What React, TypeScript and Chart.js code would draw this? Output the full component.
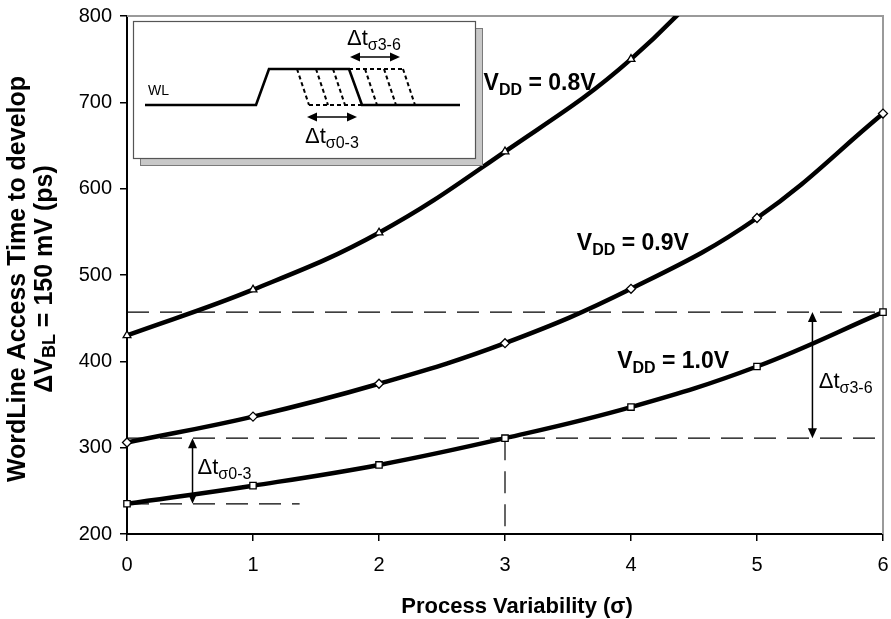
import React, { useEffect, useRef } from 'react';
import { Chart, registerables } from 'chart.js';

Chart.register(...registerables);

// ---------- data ----------
const SIGMA = [0, 1, 2, 3, 4, 5, 6];
const VDD_08 = [430, 483, 549, 643, 750, 900];
const VDD_09 = [306, 336, 374, 421, 484, 566, 687];
const VDD_10 = [235, 256, 280, 311, 347, 394, 457];
const X_TICKS = [0, 1, 2, 3, 4, 5, 6];
const Y_MIN = 200;
const Y_MAX = 800;
const Y_STEP = 100;
const CURVE_NAMES = ['0.8V', '0.9V', '1.0V'];
// reference levels of the VDD = 1.0V curve at 0, 3 and 6 sigma
const LEVEL_0 = 235;
const LEVEL_3 = 311;
const LEVEL_6 = 457;

const FONT = "Arial, 'Liberation Sans', Helvetica, sans-serif";

type Part = { t: string; size: number; bold?: boolean; dy?: number };
const fontOf = (p: Part) => `${p.bold ? 'bold ' : ''}${p.size}px ${FONT}`;
function measureParts(ctx: CanvasRenderingContext2D, parts: Part[]) {
  let w = 0;
  for (const p of parts) {
    ctx.font = fontOf(p);
    w += ctx.measureText(p.t).width;
  }
  return w;
}
function drawParts(ctx: CanvasRenderingContext2D, parts: Part[], x: number, y: number) {
  let cx = x;
  for (const p of parts) {
    ctx.font = fontOf(p);
    ctx.fillText(p.t, cx, y + (p.dy || 0));
    cx += ctx.measureText(p.t).width;
  }
}
function arrowHead(ctx: CanvasRenderingContext2D, x: number, y: number, ang: number, len: number, half: number) {
  ctx.beginPath();
  ctx.moveTo(x, y);
  ctx.lineTo(x - len * Math.cos(ang) + half * Math.sin(ang), y - len * Math.sin(ang) - half * Math.cos(ang));
  ctx.lineTo(x - len * Math.cos(ang) - half * Math.sin(ang), y - len * Math.sin(ang) + half * Math.cos(ang));
  ctx.closePath();
  ctx.fill();
}
function doubleArrow(ctx: CanvasRenderingContext2D, x1: number, y1: number, x2: number, y2: number, len = 10, half = 4.5) {
  const ang = Math.atan2(y2 - y1, x2 - x1);
  ctx.save();
  ctx.setLineDash([]);
  ctx.lineWidth = 1.5;
  ctx.strokeStyle = '#000';
  ctx.fillStyle = '#000';
  ctx.beginPath();
  ctx.moveTo(x1 + len * 0.6 * Math.cos(ang), y1 + len * 0.6 * Math.sin(ang));
  ctx.lineTo(x2 - len * 0.6 * Math.cos(ang), y2 - len * 0.6 * Math.sin(ang));
  ctx.stroke();
  arrowHead(ctx, x2, y2, ang, len, half);
  arrowHead(ctx, x1, y1, ang + Math.PI, len, half);
  ctx.restore();
}
const deltaLabel = (sub: string): Part[] => [
  { t: '\u0394t', size: 22 },
  { t: '\u03c3' + sub, size: 16, dy: 5 },
];

const annotationPlugin = {
  id: 'annotations',
  beforeDatasetsDraw(chart: any) {
    const { ctx, chartArea: a, scales } = chart;
    const xs = scales.x;
    const ys = scales.y;
    ctx.save();
    // grey frame top & right
    ctx.strokeStyle = '#9a9a9a';
    ctx.lineWidth = 2;
    ctx.beginPath();
    ctx.moveTo(a.left, a.top);
    ctx.lineTo(a.right, a.top);
    ctx.lineTo(a.right, a.bottom);
    ctx.stroke();
    // dashed reference lines
    ctx.strokeStyle = '#000';
    ctx.lineWidth = 1.2;
    ctx.setLineDash([22, 11]);
    const hline = (v: number, s0: number, s1: number) => {
      ctx.beginPath();
      ctx.moveTo(xs.getPixelForValue(s0), ys.getPixelForValue(v));
      ctx.lineTo(xs.getPixelForValue(s1), ys.getPixelForValue(v));
      ctx.stroke();
    };
    hline(LEVEL_6, 0, 6);
    hline(LEVEL_3, 0, 6);
    hline(LEVEL_0, 0, 1.37);
    ctx.beginPath();
    ctx.moveTo(xs.getPixelForValue(3), ys.getPixelForValue(LEVEL_3));
    ctx.lineTo(xs.getPixelForValue(3), ys.getPixelForValue(Y_MIN));
    ctx.stroke();
    ctx.restore();
  },
  afterDatasetsDraw(chart: any) {
    const { ctx, chartArea: a, scales } = chart;
    const xs = scales.x;
    const ys = scales.y;
    ctx.save();
    ctx.fillStyle = '#000';
    ctx.textBaseline = 'alphabetic';
    ctx.textAlign = 'left';

    // arrows on the main plot
    const ax1 = xs.getPixelForValue(0.52);
    doubleArrow(ctx, ax1, ys.getPixelForValue(LEVEL_3), ax1, ys.getPixelForValue(LEVEL_0));
    const ax2 = xs.getPixelForValue(5.44);
    doubleArrow(ctx, ax2, ys.getPixelForValue(LEVEL_6), ax2, ys.getPixelForValue(LEVEL_3));
    drawParts(ctx, deltaLabel('0-3'), xs.getPixelForValue(0.56), ys.getPixelForValue(270));
    drawParts(ctx, deltaLabel('3-6'), xs.getPixelForValue(5.49), ys.getPixelForValue(369));

    // curve labels
    const labelPos = [
      { x: 2.83, y: 714 },
      { x: 3.57, y: 529 },
      { x: 3.89, y: 392 },
    ];
    CURVE_NAMES.forEach((n, i) => {
      drawParts(
        ctx,
        [
          { t: 'V', size: 23, bold: true },
          { t: 'DD', size: 16, bold: true, dy: 5 },
          { t: ' = ' + n, size: 23, bold: true },
        ],
        xs.getPixelForValue(labelPos[i].x),
        ys.getPixelForValue(labelPos[i].y)
      );
    });

    // inset
    const bx = a.left + 6;
    const by = a.top + 5;
    const bw = 342;
    const bh = 137;
    ctx.fillStyle = '#c8c8c8';
    ctx.fillRect(bx + 7, by + 7, bw, bh);
    ctx.strokeStyle = '#7a7a7a';
    ctx.lineWidth = 1;
    ctx.strokeRect(bx + 7.5, by + 7.5, bw, bh);
    ctx.fillStyle = '#fff';
    ctx.fillRect(bx, by, bw, bh);
    ctx.strokeStyle = '#555';
    ctx.lineWidth = 1.2;
    ctx.strokeRect(bx + 0.5, by + 0.5, bw, bh);

    const P = (x: number, y: number): [number, number] => [bx + x, by + y];
    const poly = (pts: [number, number][]) => {
      ctx.beginPath();
      pts.forEach((p, i) => {
        const [x, y] = P(p[0], p[1]);
        if (i === 0) ctx.moveTo(x, y);
        else ctx.lineTo(x, y);
      });
      ctx.stroke();
    };
    ctx.strokeStyle = '#000';
    ctx.lineJoin = 'miter';
    // dashed alternative edges
    ctx.lineWidth = 2;
    ctx.setLineDash([4, 3]);
    [164, 183, 200].forEach((t) => poly([[t, 48], [t + 12, 84]]));
    poly([[176, 84], [229, 84]]);
    poly([[216, 48], [270, 48]]);
    [232, 251, 270].forEach((t) => poly([[t, 48], [t + 12, 84]]));
    // solid WL
    ctx.setLineDash([]);
    ctx.lineWidth = 2.6;
    poly([[12, 84], [123, 84], [136, 48], [216, 48], [229, 84], [327, 84]]);
    ctx.fillStyle = '#000';
    ctx.font = `14px ${FONT}`;
    ctx.fillText('WL', bx + 15, by + 74);
    const [u1x, u1y] = P(217, 36);
    const [u2x] = P(267, 36);
    doubleArrow(ctx, u1x, u1y, u2x, u1y, 10, 4.5);
    const [l1x, l1y] = P(174, 96);
    const [l2x] = P(224, 96);
    doubleArrow(ctx, l1x, l1y, l2x, l1y, 10, 4.5);
    ctx.fillStyle = '#000';
    drawParts(ctx, deltaLabel('3-6'), bx + 214, by + 24);
    drawParts(ctx, deltaLabel('0-3'), bx + 172, by + 122);

    // axis titles
    const xt = 'Process Variability (\u03c3)';
    ctx.font = `bold 22px ${FONT}`;
    ctx.textAlign = 'center';
    ctx.fillText(xt, (a.left + a.right) / 2 + 12, 613);
    ctx.textAlign = 'left';

    const cy = (a.top + a.bottom) / 2 + 4;
    const line1: Part[] = [{ t: 'WordLine Access Time to develop', size: 25, bold: true }];
    const line2: Part[] = [
      { t: '\u0394V', size: 25, bold: true },
      { t: 'BL', size: 18, bold: true, dy: 5 },
      { t: ' = 150 mV (ps)', size: 25, bold: true },
    ];
    const drawRot = (parts: Part[], cx: number) => {
      const w = measureParts(ctx, parts);
      ctx.save();
      ctx.translate(cx, cy);
      ctx.rotate(-Math.PI / 2);
      ctx.textBaseline = 'middle';
      drawParts(ctx, parts, -w / 2, 0);
      ctx.restore();
    };
    drawRot(line1, 18);
    drawRot(line2, 45);
    ctx.restore();
  },
};

export default function App() {
  const ref = useRef<HTMLCanvasElement | null>(null);
  useEffect(() => {
    if (!ref.current) return;
    const common = {
      borderColor: '#000',
      borderWidth: 4.5,
      tension: 0.4,
      capBezierPoints: false,
      pointRadius: 4.5,
      pointBorderWidth: 1.3,
      pointBackgroundColor: '#fff',
      pointBorderColor: '#000',
      clip: { left: 12, right: 12, top: 0, bottom: 12 },
    };
    const toPts = (vals: number[]) => vals.map((v, i) => ({ x: SIGMA[i], y: v }));
    const tickFont = { family: FONT, size: 20 };
    const chart = new Chart(ref.current, {
      type: 'line',
      data: {
        datasets: [
          { label: 'VDD = ' + CURVE_NAMES[0], data: toPts(VDD_08), pointStyle: 'triangle', ...common },
          { label: 'VDD = ' + CURVE_NAMES[1], data: toPts(VDD_09), pointStyle: 'rectRot', ...common },
          { label: 'VDD = ' + CURVE_NAMES[2], data: toPts(VDD_10), pointStyle: 'rect', ...common },
        ] as any,
      },
      options: {
        animation: false,
        responsive: false,
        devicePixelRatio: 1,
        layout: { padding: { top: 16, right: 8, left: 0, bottom: 0 } },
        plugins: { legend: { display: false }, tooltip: { enabled: false } },
        scales: {
          x: {
            type: 'linear',
            min: 0,
            max: 6,
            afterFit: (s: any) => {
              s.height = 85;
              s.paddingLeft = 0;
              s.paddingRight = 0;
            },
            afterBuildTicks: (s: any) => {
              s.ticks = X_TICKS.map((v) => ({ value: v }));
            },
            ticks: { font: tickFont, color: '#000', padding: 12, maxRotation: 0, autoSkip: false },
            grid: { drawOnChartArea: false, drawTicks: true, tickLength: 7, color: '#000', lineWidth: 1.5 },
            border: { color: '#000', width: 2 },
          },
          y: {
            type: 'linear',
            min: Y_MIN,
            max: Y_MAX,
            afterFit: (s: any) => {
              s.width = 127;
              s.paddingTop = 0;
              s.paddingBottom = 0;
            },
            ticks: { stepSize: Y_STEP, font: tickFont, color: '#000', padding: 8 },
            grid: { drawOnChartArea: false, drawTicks: true, tickLength: 7, color: '#000', lineWidth: 1.5 },
            border: { color: '#000', width: 2 },
          },
        },
      } as any,
      plugins: [annotationPlugin],
    });
    return () => chart.destroy();
  }, []);
  return (
    <div style={{ position: 'absolute', left: 0, top: 0, width: 891, height: 619, background: '#fff' }}>
      <canvas ref={ref} width={891} height={619} style={{ width: 891, height: 619, display: 'block' }} />
    </div>
  );
}
